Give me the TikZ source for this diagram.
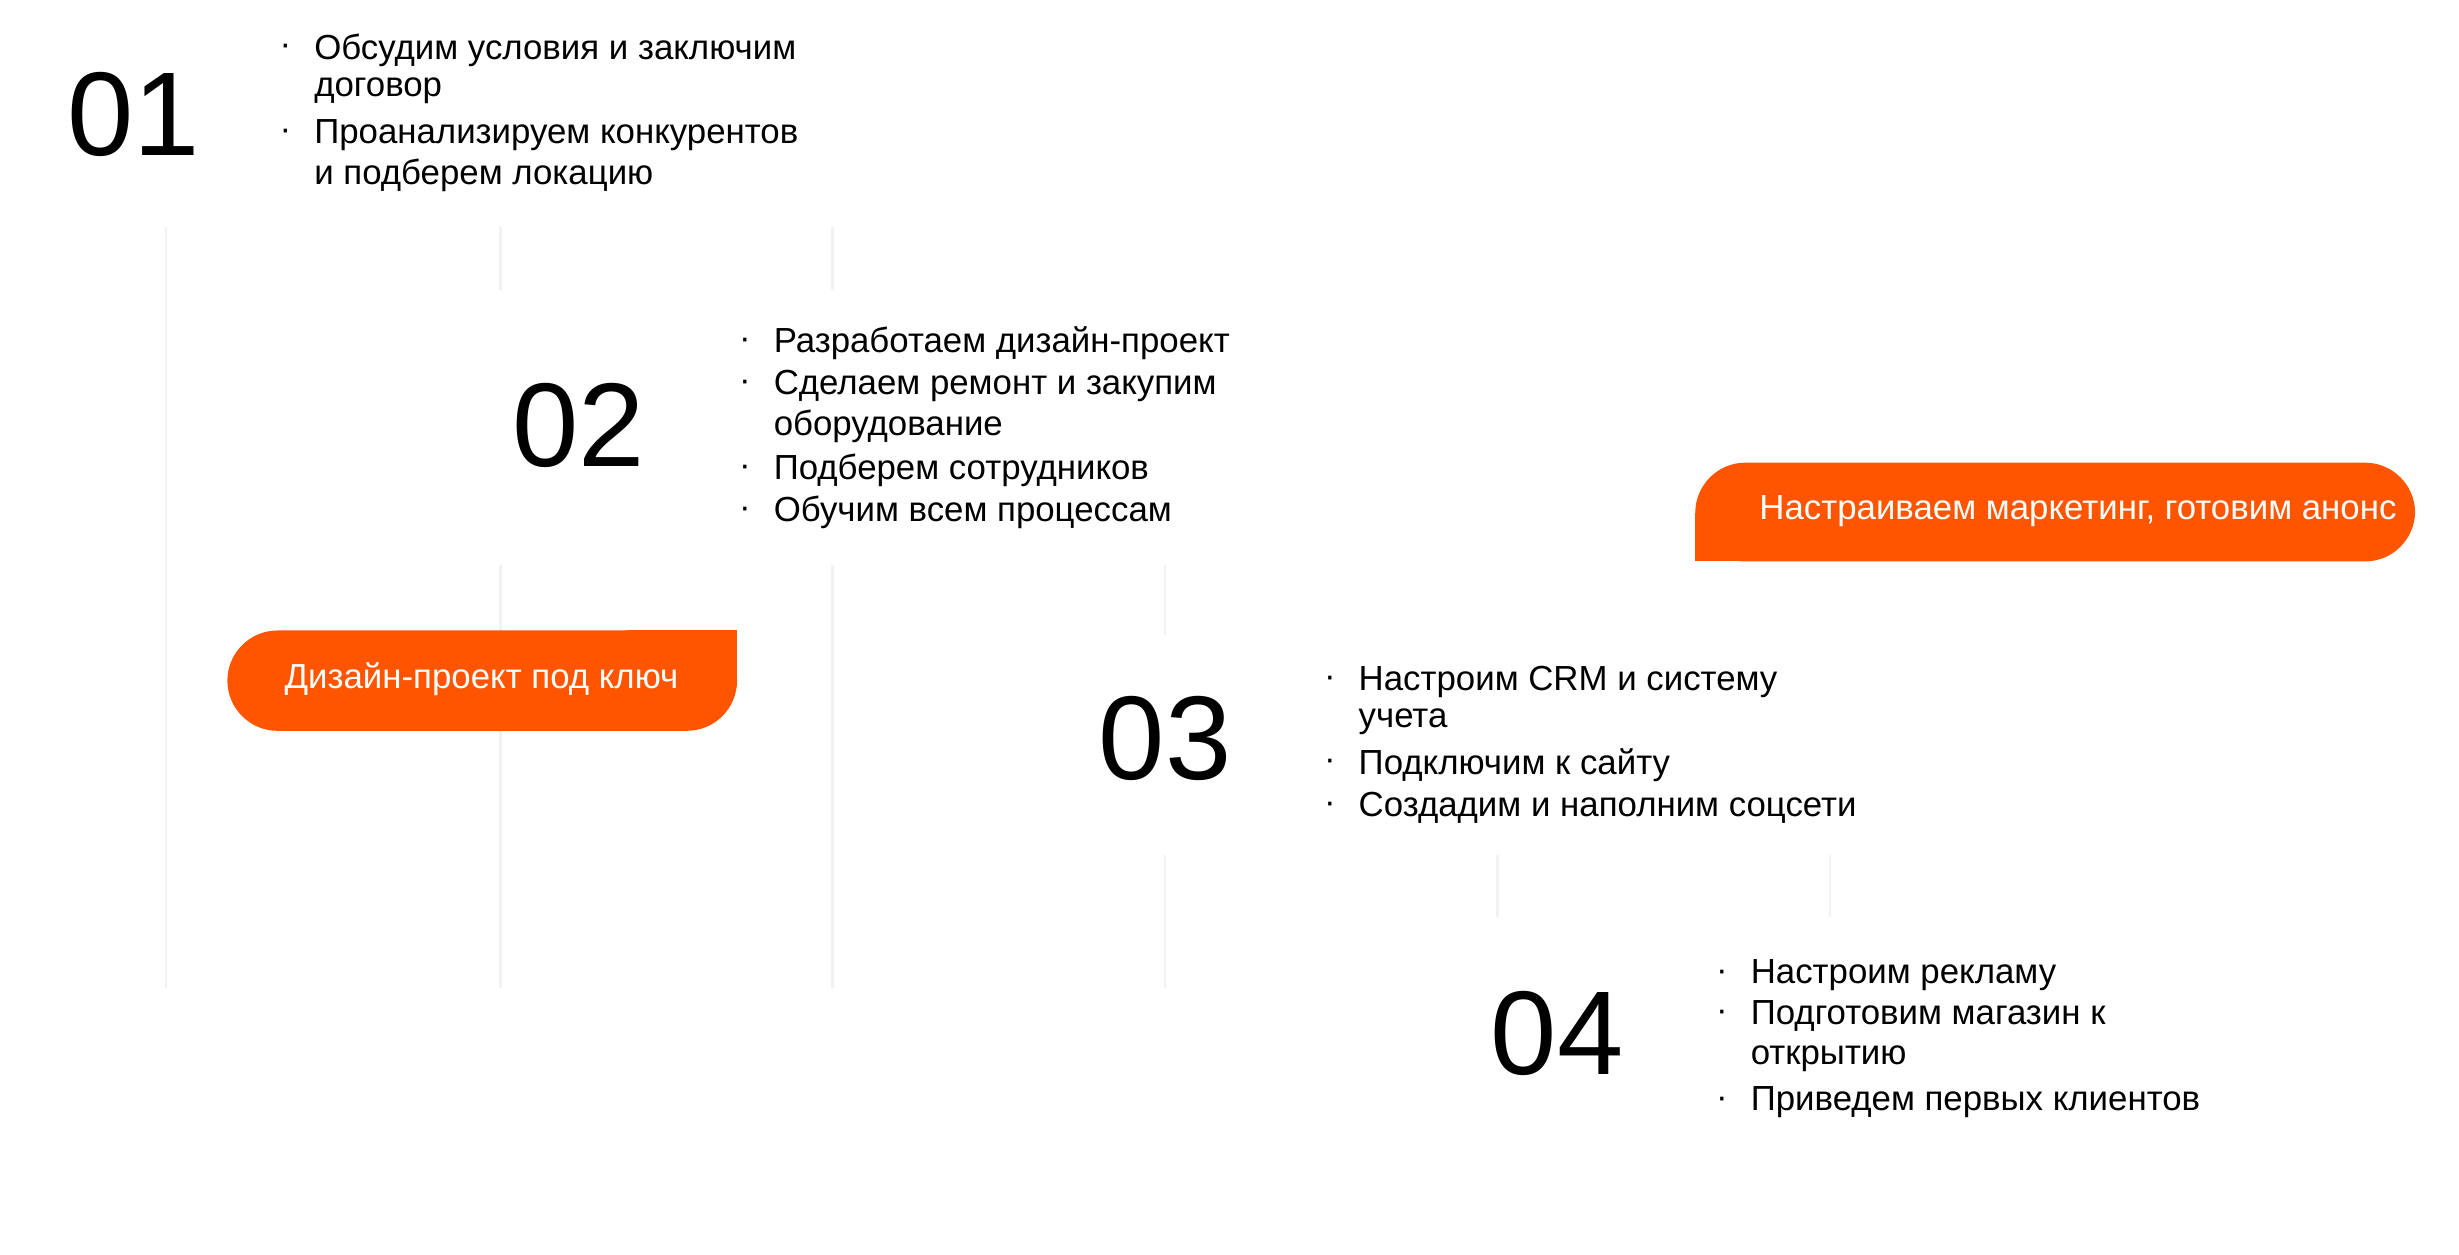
\documentclass[tikz,border=0pt]{standalone}
\usepackage{fontspec}
\setmainfont{Liberation Sans}
\begin{document}
\begin{tikzpicture}[x=0.5pt,y=-0.5pt,
  num/.style={font=\fontsize{38}{38}\selectfont, inner sep=0},
  txt/.style={font=\fontsize{11.1}{12}\selectfont, anchor=west, inner sep=0},
  bul/.style={font=\fontsize{11.1}{12}\selectfont, inner sep=0},
  pilltxt/.style={font=\fontsize{11.1}{12}\selectfont, text=white, inner sep=0},
  grid/.style={draw=black!5, line width=0.8pt}]
\definecolor{brand}{HTML}{FF5500}
\useasboundingbox (0,0) rectangle (1568,800);
% faint columns
\draw[grid] (106,145) -- (106,630);
\draw[grid] (319,145) -- (319,185) (319,360) -- (319,630);
\draw[grid] (531,145) -- (531,185) (531,360) -- (531,630);
\draw[grid] (743,360) -- (743,405) (743,545) -- (743,630);
\draw[grid] (955,545) -- (955,585);
\draw[grid] (1167,545) -- (1167,585);
% pills
\fill[brand, rounded corners=16pt] (145,402) rectangle (470,466);
\fill[brand] (400,402) rectangle (470,434);
\fill[brand, rounded corners=16pt] (1081,295) rectangle (1540,358);
\fill[brand] (1081,327) rectangle (1150,358);
\node[pilltxt] (p1) at (307,433) {Дизайн-проект под ключ};
\node[pilltxt] (p2) at (1325,326) {Настраиваем маркетинг, готовим анонс};
% step 1
\node[num] (n1) at (85,73) {01};
\node[bul] (b11) at (182,32) {·};
\node[txt] (t11) at (200,32) {Обсудим условия и заключим};
\node[txt] (t12) at (200,58) {договор};
\node[bul] (b12) at (182,86) {·};
\node[txt] (t13) at (200,86) {Проанализируем конкурентов};
\node[txt] (t14) at (200,112) {и подберем локацию};
% step 2
\node[num] (n2) at (369,271) {02};
\node[bul] (b21) at (475,219) {·};
\node[txt] (t21) at (493,219) {Разработаем дизайн-проект};
\node[bul] (b22) at (475,246) {·};
\node[txt] (t22) at (493,246) {Сделаем ремонт и закупим};
\node[txt] (t23) at (493,272) {оборудование};
\node[bul] (b23) at (475,300) {·};
\node[txt] (t24) at (493,300) {Подберем сотрудников};
\node[bul] (b24) at (475,327) {·};
\node[txt] (t25) at (493,327) {Обучим всем процессам};
% step 3
\node[num] (n3) at (743,471) {03};
\node[bul] (b31) at (848,435) {·};
\node[txt] (t31) at (866,435) {Настроим CRM и систему};
\node[txt] (t32) at (866,460) {учета};
\node[bul] (b32) at (848,488) {·};
\node[txt] (t33) at (866,488) {Подключим к сайту};
\node[bul] (b33) at (848,515) {·};
\node[txt] (t34) at (866,515) {Создадим и наполним соцсети};
% step 4
\node[num] (n4) at (993,659) {04};
\node[bul] (b41) at (1098,622) {·};
\node[txt] (t41) at (1116,622) {Настроим рекламу};
\node[bul] (b42) at (1098,648) {·};
\node[txt] (t42) at (1116,648) {Подготовим магазин к};
\node[txt] (t43) at (1116,675) {открытию};
\node[bul] (b43) at (1098,703) {·};
\node[txt] (t44) at (1116,703) {Приведем первых клиентов};
\end{tikzpicture}
\end{document}
